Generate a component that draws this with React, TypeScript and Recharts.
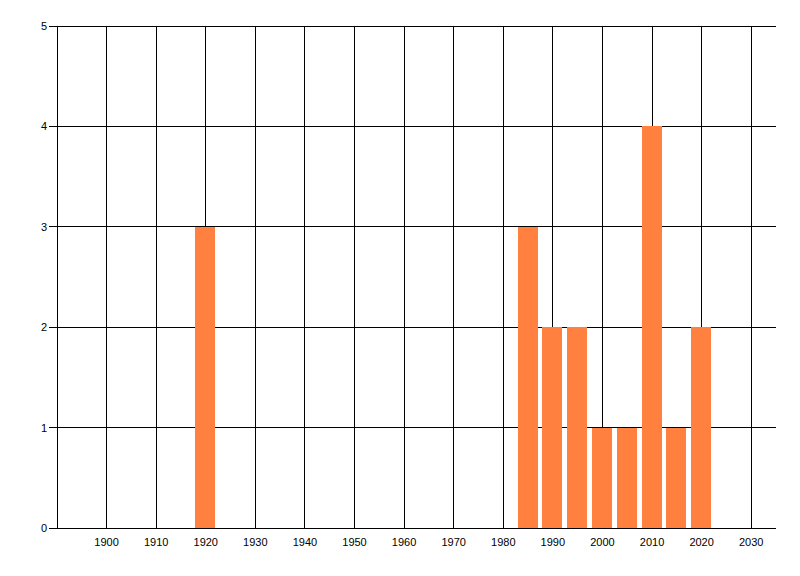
import React from 'react';
import { BarChart, Bar, XAxis, YAxis, CartesianGrid } from 'recharts';

// years that have a bar, and the count for each
const years = [1920, 1985, 1990, 1995, 2000, 2005, 2010, 2015, 2020];
const counts = [3, 3, 2, 2, 1, 1, 4, 1, 2];

const xTicks = [1900, 1910, 1920, 1930, 1940, 1950, 1960, 1970, 1980, 1990, 2000, 2010, 2020, 2030];
const yTicks = [0, 1, 2, 3, 4, 5];
const xDomain = [1890, 2035];

const data = years.map((year, i) => ({ year, count: counts[i] }));

const tickStyle = { fill: '#000', fontSize: 11, fontFamily: '"Liberation Sans", Arial, sans-serif' };

// vertical grid only at the tick years (no border line on the right edge)
const gridX = ({ xAxis, offset }: any) => {
  if (xAxis && typeof xAxis.scale === 'function') return xTicks.map((t) => xAxis.scale(t));
  const span = xDomain[1] - xDomain[0];
  return xTicks.map((t) => offset.left + ((t - xDomain[0]) / span) * offset.width);
};

export default function App() {
  return (
    <div
      style={{
        position: 'absolute',
        left: 0,
        top: 0,
        width: 800,
        height: 576,
        background: '#fff',
        shapeRendering: 'crispEdges',
      }}
    >
      <BarChart width={800} height={576} data={data} margin={{ top: 26, right: 24, bottom: 0, left: 0 }}>
        <CartesianGrid stroke="#000" strokeWidth={1} strokeOpacity={1} verticalCoordinatesGenerator={gridX} />
        <XAxis
          dataKey="year"
          type="number"
          domain={xDomain}
          ticks={xTicks}
          interval={0}
          height={48}
          tickLine={false}
          tickSize={8}
          tickMargin={2}
          axisLine={{ stroke: '#000' }}
          tick={tickStyle}
        />
        <YAxis
          type="number"
          domain={[0, 5]}
          ticks={yTicks}
          interval={0}
          width={57}
          tickSize={8}
          tickMargin={2}
          tickLine={{ stroke: '#000' }}
          axisLine={{ stroke: '#000' }}
          tick={tickStyle}
        />
        <Bar dataKey="count" fill="#FF803F" barSize={20} isAnimationActive={false} />
      </BarChart>
    </div>
  );
}
